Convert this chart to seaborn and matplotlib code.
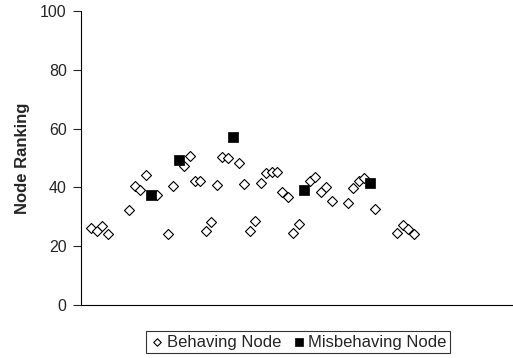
import matplotlib
matplotlib.use("Agg")
import matplotlib.pyplot as plt
import pandas as pd
import seaborn as sns

# node index and ranking
behaving_x = [1, 2, 3, 4, 8, 9, 10, 11, 13, 15, 16, 18, 19, 20, 21, 22, 23, 24,
              25, 26, 28, 29, 30, 31, 32, 33, 34, 35, 36, 37, 38, 39, 41, 42, 43,
              44, 45, 48, 49, 50, 51, 53, 57, 58, 59, 60]
behaving_y = [26.1, 25.3, 27.0, 24.1, 32.2, 40.5, 39.0, 44.3, 37.6, 24.3, 40.5,
              47.3, 50.8, 42.3, 42.3, 25.2, 28.1, 40.7, 50.5, 50.1, 48.3, 41.2,
              25.2, 28.6, 41.5, 44.9, 45.2, 45.2, 38.5, 36.7, 24.6, 27.7, 42.1,
              43.5, 38.4, 40.0, 35.4, 34.6, 39.7, 42.3, 43.2, 32.8, 24.5, 27.1,
              26.0, 24.1]
misbehaving_x = [12, 17, 27, 40, 52]
misbehaving_y = [37.3, 49.5, 57.3, 39.3, 41.5]

y_ticks = [0, 20, 40, 60, 80, 100]

sns.set_style("white")
plt.rcParams["font.family"] = ["Liberation Sans", "DejaVu Sans"]

beh = pd.DataFrame({"node": behaving_x, "rank": behaving_y})
mis = pd.DataFrame({"node": misbehaving_x, "rank": misbehaving_y})

fig = plt.figure(figsize=(5.13, 3.58), dpi=100)
ax = fig.add_axes([0.157, 0.148, 0.843, 0.821])

sns.scatterplot(data=beh, x="node", y="rank", marker="D", s=26,
                facecolor="white", edgecolor="black", linewidth=0.8,
                label="Behaving Node", ax=ax, zorder=2)
sns.scatterplot(data=mis, x="node", y="rank", marker="s", s=55,
                color="black", edgecolor="black", linewidth=0.5,
                label="Misbehaving Node", ax=ax, zorder=3)

ax.set_xlim(-0.95, 78.2)
ax.set_ylim(0, 100)
ax.set_yticks(y_ticks)
ax.set_xticks([])
ax.set_xlabel("")
ax.set_ylabel("Node Ranking", fontsize=12, fontweight="bold", labelpad=7)
ax.tick_params(axis="y", direction="out", length=6, width=0.8, labelsize=11.5,
               left=True, pad=4)
for side in ["top", "right"]:
    ax.spines[side].set_visible(False)
for side in ["left", "bottom"]:
    ax.spines[side].set_color("black")
    ax.spines[side].set_linewidth(0.8)

ax.get_legend().remove()
handles, labels = ax.get_legend_handles_labels()
leg = fig.legend(handles, labels, loc="center", bbox_to_anchor=(298 / 513, 1 - 342 / 358),
                 ncol=2, fontsize=12, frameon=True, fancybox=False, markerscale=0.75,
                 handletextpad=0.1, columnspacing=0.5, handlelength=1.0,
                 borderpad=0.2, borderaxespad=0)
leg.get_frame().set_edgecolor("black")
leg.get_frame().set_linewidth(0.8)

fig.savefig("out.png", dpi=100)
